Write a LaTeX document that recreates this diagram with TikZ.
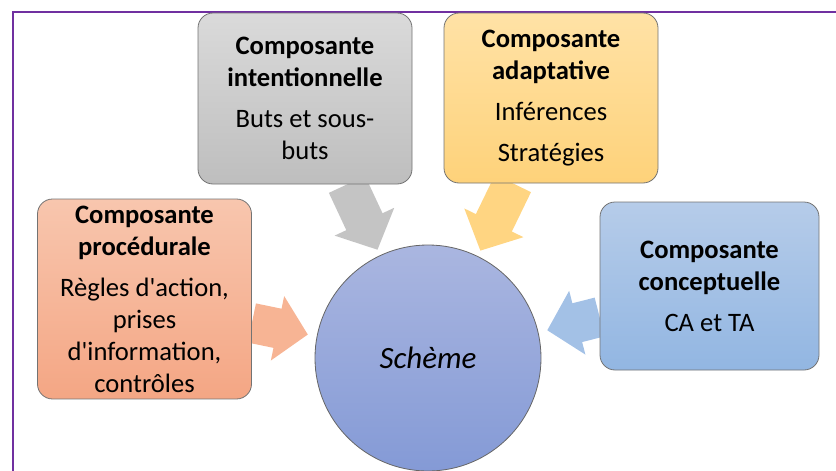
\documentclass[tikz,border=0pt]{standalone}
\usepackage{fontspec}
\setmainfont{Carlito}[Ligatures=TeXOff]
\usetikzlibrary{arrows.meta,backgrounds}

\definecolor{grayT}{RGB}{218,218,218}
\definecolor{grayB}{RGB}{190,190,190}
\definecolor{yelT}{RGB}{255,226,166}
\definecolor{yelB}{RGB}{254,210,122}
\definecolor{oraT}{RGB}{248,198,174}
\definecolor{oraB}{RGB}{244,166,132}
\definecolor{bluT}{RGB}{182,204,233}
\definecolor{bluB}{RGB}{146,182,226}
\definecolor{schT}{RGB}{170,182,224}
\definecolor{schB}{RGB}{132,154,214}
\definecolor{arrGray}{RGB}{196,196,196}
\definecolor{arrYel}{RGB}{255,213,130}
\definecolor{arrOra}{RGB}{247,180,148}
\definecolor{arrBlu}{RGB}{163,193,230}
\definecolor{frame}{RGB}{112,48,160}

\tikzset{
  compbox/.style={draw=black!55, rounded corners=7.5pt, align=center,
    minimum width=107pt, font=\fontsize{13.3}{16}\selectfont},
  bigarrow/.style={draw=#1, line width=20pt, -{Triangle[length=15.5pt,width=32pt]}}
}

\begin{document}
\begin{tikzpicture}[x=0.5pt,y=-0.5pt]
\useasboundingbox (0,0) rectangle (836,471);
\draw[frame, line width=0.8pt] (13,471) -- (13,12) -- (836,12);

\node[compbox, minimum height=85.5pt, top color=grayT, bottom color=grayB] (intent) at (305,98.5)
  {\textbf{Composante}\\\textbf{intentionnelle}\\[4.5pt]Buts et sous-\\buts};
\node[compbox, minimum height=85pt, top color=yelT, bottom color=yelB] (adapt) at (551,98)
  {\textbf{Composante}\\\textbf{adaptative}\\[4.5pt]Inférences\\[4.5pt]Stratégies};
\node[compbox, minimum height=99pt, top color=oraT, bottom color=oraB] (proc) at (144.5,299)
  {\textbf{Composante}\\\textbf{procédurale}\\[4.5pt]Règles d'action,\\prises\\d'information,\\contrôles};
\node[compbox, minimum width=109.5pt, minimum height=84pt, top color=bluT, bottom color=bluB] (concept) at (709.5,286)
  {\textbf{Composante}\\\textbf{conceptuelle}\\[4.5pt]CA et TA};
\node[circle, draw=black!60, minimum size=113pt, top color=schT, bottom color=schB,
  font=\fontsize{15.5}{18}\selectfont\itshape] (schema) at (428,358) {\raisebox{-2pt}{Schème}};

\begin{scope}[on background layer]
\draw[bigarrow=arrGray, shorten >=3pt] ([xshift=21pt]intent.south) -- (schema.115);
\draw[bigarrow=arrYel, shorten >=3pt] ([xshift=-19pt]adapt.south) -- (schema.64);
\draw[bigarrow=arrOra, shorten >=4.5pt] ([yshift=-12pt]proc.east) -- (schema.169);
\draw[bigarrow=arrBlu, shorten >=4.5pt] ([yshift=-15.5pt]concept.west) -- (schema.13);
\end{scope}
\end{tikzpicture}
\end{document}
